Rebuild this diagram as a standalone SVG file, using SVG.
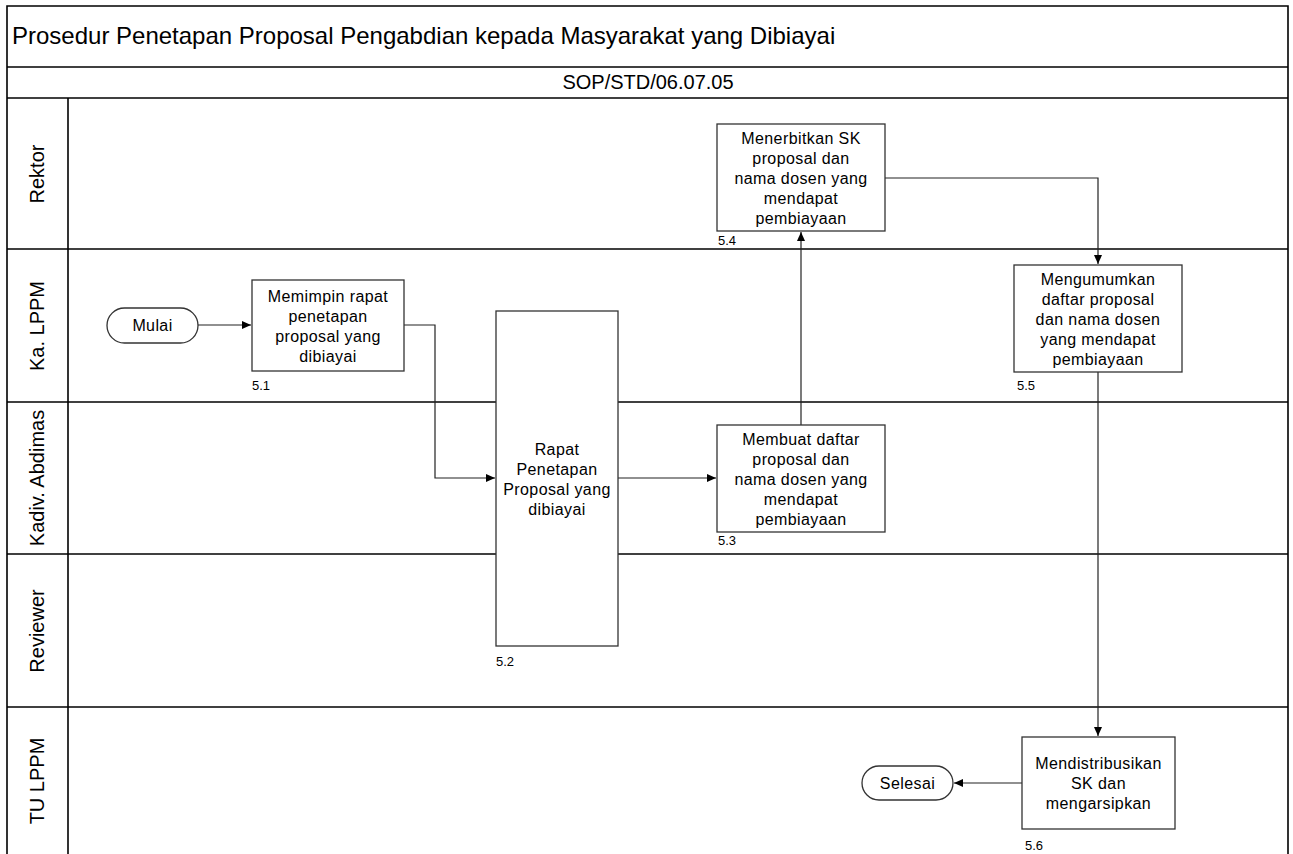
<svg xmlns="http://www.w3.org/2000/svg" width="1293" height="854" viewBox="0 0 1293 854">
<style>
  .frame { stroke: #000; stroke-width: 1.6; fill: none; }
  .box { fill: #fff; stroke: #333; stroke-width: 1.3; }
  .t { font-family: "Liberation Sans", Arial, sans-serif; font-size: 16px; fill: #000; text-anchor: middle; letter-spacing: 0.4px; }
  .lbl { font-family: "Liberation Sans", Arial, sans-serif; font-size: 13px; fill: #000; }
  .lane { font-family: "Liberation Sans", Arial, sans-serif; font-size: 20px; fill: #000; text-anchor: middle; }
  .title { font-family: "Liberation Sans", Arial, sans-serif; font-size: 24px; fill: #000; }
  .sop { font-family: "Liberation Sans", Arial, sans-serif; font-size: 20px; fill: #000; text-anchor: middle; }
  .conn { stroke: #222; stroke-width: 1.2; fill: none; marker-end: url(#arr); }
</style>
<defs>
  <marker id="arr" markerWidth="10" markerHeight="10" refX="9" refY="5" orient="auto" markerUnits="userSpaceOnUse">
    <path d="M0,1 L9,5 L0,9 Z" fill="#000"/>
  </marker>
</defs>
<rect width="1293" height="854" fill="#fff"/>

<g id="pool">
  <path class="frame" d="M7,854 V6 H1288 V854"/>
  <line class="frame" x1="7" y1="67" x2="1288" y2="67"/>
  <line class="frame" x1="7" y1="98" x2="1288" y2="98"/>
  <line class="frame" x1="7" y1="249" x2="1288" y2="249"/>
  <line class="frame" x1="7" y1="402" x2="1288" y2="402"/>
  <line class="frame" x1="7" y1="554" x2="1288" y2="554"/>
  <line class="frame" x1="7" y1="707" x2="1288" y2="707"/>
  <line class="frame" x1="68" y1="98" x2="68" y2="854"/>
  <text class="title" x="12" y="44">Prosedur Penetapan Proposal Pengabdian kepada Masyarakat yang Dibiayai</text>
  <text class="sop" x="648" y="89">SOP/STD/06.07.05</text>
  <text class="lane" transform="translate(44,174) rotate(-90)">Rektor</text>
  <text class="lane" transform="translate(44,326) rotate(-90)">Ka. LPPM</text>
  <text class="lane" transform="translate(44,478) rotate(-90)">Kadiv. Abdimas</text>
  <text class="lane" transform="translate(44,631) rotate(-90)">Reviewer</text>
  <text class="lane" transform="translate(44,781) rotate(-90)">TU LPPM</text>
</g>

<g id="connectors">
  <path class="conn" d="M198,325 H251"/>
  <path class="conn" d="M404,325 H435 V478 H495"/>
  <path class="conn" d="M618,478 H716"/>
  <path class="conn" d="M801,425 V232"/>
  <path class="conn" d="M885,178 H1098 V264"/>
  <path class="conn" d="M1098,372 V736"/>
  <path class="conn" d="M1022,783 H954"/>
</g>

<g id="mulai">
  <rect class="box" x="107" y="308" width="91" height="35" rx="17.5"/>
  <text class="t" x="152.5" y="331">Mulai</text>
</g>

<g id="n51">
  <rect class="box" x="252" y="280" width="152" height="91"/>
  <text class="t" x="328" y="302">Memimpin rapat</text>
  <text class="t" x="328" y="322">penetapan</text>
  <text class="t" x="328" y="342">proposal yang</text>
  <text class="t" x="328" y="362">dibiayai</text>
  <text class="lbl" x="252" y="390">5.1</text>
</g>

<g id="n52">
  <rect class="box" x="496" y="311" width="122" height="335"/>
  <text class="t" x="557" y="454.5">Rapat</text>
  <text class="t" x="557" y="474.5">Penetapan</text>
  <text class="t" x="557" y="494.5">Proposal yang</text>
  <text class="t" x="557" y="514.5">dibiayai</text>
  <text class="lbl" x="496" y="666">5.2</text>
</g>

<g id="n53">
  <rect class="box" x="717" y="425" width="168" height="107"/>
  <text class="t" x="801" y="444.5">Membuat daftar</text>
  <text class="t" x="801" y="464.5">proposal dan</text>
  <text class="t" x="801" y="484.5">nama dosen yang</text>
  <text class="t" x="801" y="504.5">mendapat</text>
  <text class="t" x="801" y="524.5">pembiayaan</text>
  <text class="lbl" x="718" y="545">5.3</text>
</g>

<g id="n54">
  <rect class="box" x="717" y="124" width="168" height="107"/>
  <text class="t" x="801" y="143.5">Menerbitkan SK</text>
  <text class="t" x="801" y="163.5">proposal dan</text>
  <text class="t" x="801" y="183.5">nama dosen yang</text>
  <text class="t" x="801" y="203.5">mendapat</text>
  <text class="t" x="801" y="223.5">pembiayaan</text>
  <text class="lbl" x="718" y="245">5.4</text>
</g>

<g id="n55">
  <rect class="box" x="1014" y="265" width="168" height="107"/>
  <text class="t" x="1098" y="284.5">Mengumumkan</text>
  <text class="t" x="1098" y="304.5">daftar proposal</text>
  <text class="t" x="1098" y="324.5">dan nama dosen</text>
  <text class="t" x="1098" y="344.5">yang mendapat</text>
  <text class="t" x="1098" y="364.5">pembiayaan</text>
  <text class="lbl" x="1017" y="390">5.5</text>
</g>

<g id="n56">
  <rect class="box" x="1022" y="737" width="153" height="92"/>
  <text class="t" x="1098.5" y="769">Mendistribusikan</text>
  <text class="t" x="1098.5" y="789">SK dan</text>
  <text class="t" x="1098.5" y="809">mengarsipkan</text>
  <text class="lbl" x="1025" y="850">5.6</text>
</g>

<g id="selesai">
  <rect class="box" x="862" y="766" width="91" height="34" rx="17"/>
  <text class="t" x="907.5" y="789">Selesai</text>
</g>
</svg>
